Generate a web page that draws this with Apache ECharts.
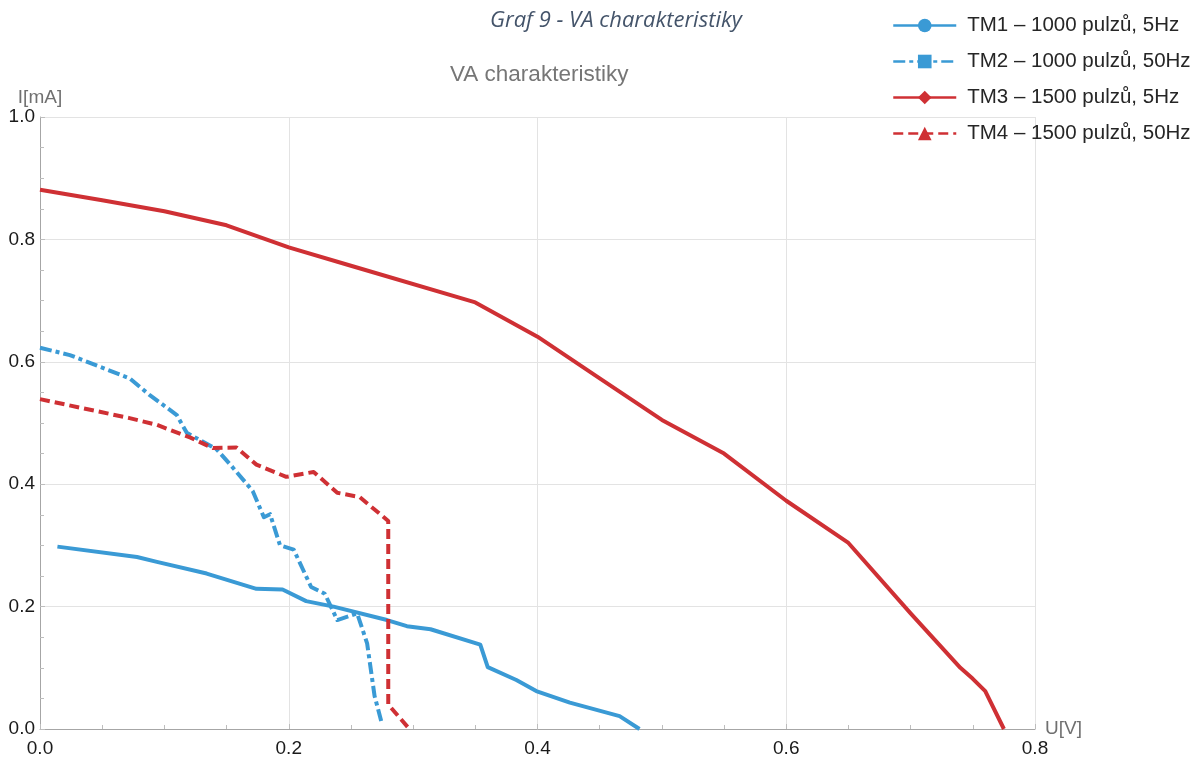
<!DOCTYPE html>
<html>
<head>
<meta charset="utf-8">
<script src="https://cdn.jsdelivr.net/npm/echarts@6/dist/echarts.min.js"></script>
<style>
  html, body { margin: 0; padding: 0; background: #fff; }
  #chart { width: 1195px; height: 758px; }
</style>
</head>
<body>
<div id="chart"></div>
<script>
// Measured points: voltage U [V] and current I [mA] for each sample
const seriesNames = [
  'TM1 – 1000 pulzů, 5Hz',
  'TM2 – 1000 pulzů, 50Hz',
  'TM3 – 1500 pulzů, 5Hz',
  'TM4 – 1500 pulzů, 50Hz'
];

const tm1U = [0.014, 0.078, 0.094, 0.134, 0.174, 0.195, 0.214, 0.236, 0.279, 0.295, 0.314, 0.354, 0.360, 0.383, 0.399, 0.426, 0.466, 0.482];
const tm1I = [0.298, 0.281, 0.273, 0.254, 0.229, 0.228, 0.209, 0.200, 0.178, 0.168, 0.163, 0.138, 0.101, 0.080, 0.062, 0.043, 0.021, 0.000];

const tm2U = [0.000, 0.024, 0.072, 0.088, 0.110, 0.118, 0.142, 0.153, 0.171, 0.180, 0.185, 0.193, 0.204, 0.218, 0.229, 0.239, 0.255, 0.263, 0.269, 0.275];
const tm2I = [0.623, 0.611, 0.573, 0.546, 0.513, 0.484, 0.457, 0.432, 0.389, 0.346, 0.351, 0.300, 0.293, 0.232, 0.221, 0.178, 0.189, 0.140, 0.054, 0.008];

const tm3U = [0.000, 0.050, 0.100, 0.150, 0.200, 0.250, 0.350, 0.400, 0.450, 0.500, 0.550, 0.600, 0.650, 0.700, 0.740, 0.750, 0.760, 0.775];
const tm3I = [0.881, 0.864, 0.846, 0.823, 0.787, 0.757, 0.697, 0.641, 0.573, 0.505, 0.450, 0.373, 0.304, 0.189, 0.100, 0.082, 0.062, 0.000];

const tm4U = [0.000, 0.072, 0.094, 0.121, 0.139, 0.158, 0.174, 0.198, 0.220, 0.239, 0.257, 0.280, 0.280, 0.297];
const tm4I = [0.539, 0.508, 0.497, 0.476, 0.459, 0.460, 0.432, 0.412, 0.420, 0.386, 0.379, 0.340, 0.040, 0.000];

// Axis ticks
const xTicks = [0.0, 0.2, 0.4, 0.6, 0.8];
const yTicks = [0.0, 0.2, 0.4, 0.6, 0.8, 1.0];

const pairs = (u, i) => u.map((v, k) => [v, i[k]]);

const BLUE = '#3a9ad5';
const RED = '#cf3034';

const chart = echarts.init(document.getElementById('chart'));

function lineSeries(name, data, color, type, symbol) {
  return {
    name: name,
    type: 'line',
    data: data,
    symbol: symbol,
    showSymbol: false,
    symbolSize: 14,
    itemStyle: { color: color },
    lineStyle: { color: color, width: 4, type: type, cap: 'butt', join: 'round' },
    emphasis: { disabled: true },
    z: 3
  };
}

const labelFont = { fontFamily: 'Liberation Sans', fontSize: 19, color: '#1a1a1a' };

chart.setOption({
  animation: false,
  backgroundColor: '#ffffff',
  title: [
    {
      text: 'Graf 9 - VA charakteristiky',
      left: 485, top: 5,
      textStyle: { fontFamily: 'Open Sans', fontStyle: 'italic', fontWeight: 'normal', fontSize: 22, color: '#44546a' }
    },
    {
      text: 'VA charakteristiky',
      left: 445, top: 58,
      textStyle: { fontFamily: 'Liberation Sans', fontWeight: 'normal', fontSize: 22.5, color: '#767676' }
    }
  ],
  legend: {
    orient: 'vertical',
    left: 887, top: 10,
    itemWidth: 63, itemHeight: 17, itemGap: 15,
    data: seriesNames,
    lineStyle: { width: 2.5 },
    textStyle: { fontFamily: 'Liberation Sans', fontSize: 20.5, lineHeight: 21, color: '#262626', padding: [0, 0, 0, 6] },
    selectedMode: false
  },
  grid: { left: 40, right: 160, top: 117, bottom: 25, containLabel: false },
  xAxis: {
    type: 'value',
    min: xTicks[0], max: xTicks[xTicks.length - 1], interval: 0.2,
    name: 'U[V]', nameLocation: 'end', nameGap: 10,
    nameTextStyle: { fontFamily: 'Liberation Sans', fontSize: 19, color: '#707070', verticalAlign: 'middle' },
    axisLine: { lineStyle: { color: '#a6a6a6', width: 1 } },
    axisTick: { show: true, inside: true, length: 5, lineStyle: { color: '#bdbdbd' } },
    minorTick: { show: true, splitNumber: 4, length: 4, lineStyle: { color: '#bdbdbd' } },
    axisLabel: Object.assign({ margin: 10, formatter: v => v.toFixed(1) }, labelFont),
    splitLine: { show: true, lineStyle: { color: '#e3e3e3', width: 1 } }
  },
  yAxis: {
    type: 'value',
    min: yTicks[0], max: yTicks[yTicks.length - 1], interval: 0.2,
    name: 'I[mA]', nameLocation: 'end', nameGap: 10,
    nameTextStyle: { fontFamily: 'Liberation Sans', fontSize: 19, color: '#707070', align: 'center' },
    axisLine: { show: true, lineStyle: { color: '#a6a6a6', width: 1 } },
    axisTick: { show: true, inside: true, length: 5, lineStyle: { color: '#bdbdbd' } },
    minorTick: { show: true, splitNumber: 4, length: 4, lineStyle: { color: '#bdbdbd' } },
    axisLabel: Object.assign({ margin: 5, formatter: v => v.toFixed(1) }, labelFont),
    splitLine: { show: true, lineStyle: { color: '#e3e3e3', width: 1 } }
  },
  series: [
    lineSeries(seriesNames[0], pairs(tm1U, tm1I), BLUE, 'solid', 'circle'),
    lineSeries(seriesNames[1], pairs(tm2U, tm2I), BLUE, [12, 4, 4, 4], 'rect'),
    lineSeries(seriesNames[2], pairs(tm3U, tm3I), RED, 'solid', 'diamond'),
    lineSeries(seriesNames[3], pairs(tm4U, tm4I), RED, [10, 5], 'triangle')
  ]
});
</script>
</body>
</html>
